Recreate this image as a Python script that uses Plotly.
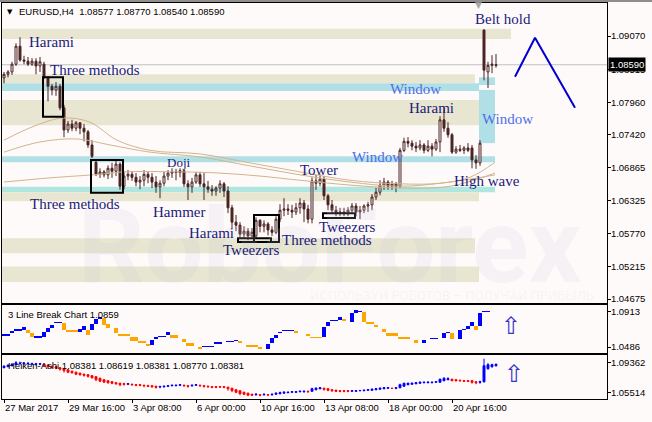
import plotly.graph_objects as go

# ---------------- data ----------------
bars = list(range(124))
o = [1.0837,1.0843,1.0847,1.0860,1.0890,1.0867,1.0865,1.0860,1.0865,1.0857,
     1.0860,1.0837,1.0823,1.0817,1.0823,1.0787,1.0750,1.0760,1.0753,1.0762,
     1.0753,1.0747,1.0725,1.0696,1.0676,1.0680,1.0675,1.0686,1.0681,1.0693,
     1.0656,1.0673,1.0676,1.0671,1.0663,1.0666,1.0676,1.0671,1.0663,1.0655,
     1.0661,1.0673,1.0678,1.0680,1.0679,1.0682,1.0660,1.0655,1.0663,1.0675,
     1.0660,1.0655,1.0651,1.0648,1.0653,1.0660,1.0648,1.0620,1.0596,1.0591,
     1.0576,1.0581,1.0573,1.0573,1.0599,1.0589,1.0593,1.0583,1.0579,1.0601,
     1.0616,1.0618,1.0616,1.0613,1.0620,1.0628,1.0618,1.0601,1.0665,1.0661,
     1.0668,1.0640,1.0625,1.0616,1.0611,1.0613,1.0610,1.0616,1.0623,1.0613,
     1.0616,1.0623,1.0625,1.0638,1.0646,1.0658,1.0663,1.0656,1.0660,1.0656,
     1.0716,1.0731,1.0728,1.0723,1.0720,1.0725,1.0716,1.0723,1.0718,1.0730,
     1.0767,1.0753,1.0742,1.0713,1.0718,1.0716,1.0720,1.0720,1.0700,1.0695,
     1.0917,1.0847,1.0858,1.08577]
h = [1.0847,1.0850,1.0864,1.0895,1.0905,1.0874,1.0872,1.0870,1.0870,1.0872,
     1.0864,1.0840,1.0827,1.0830,1.0827,1.0792,1.0765,1.0767,1.0765,1.0763,
     1.0760,1.0750,1.0733,1.0700,1.0686,1.0683,1.0691,1.0695,1.0700,1.0696,
     1.0680,1.0683,1.0681,1.0678,1.0673,1.0683,1.0680,1.0678,1.0673,1.0666,
     1.0680,1.0683,1.0686,1.0685,1.0686,1.0683,1.0666,1.0670,1.0680,1.0680,
     1.0678,1.0665,1.0658,1.0656,1.0666,1.0663,1.0656,1.0625,1.0608,1.0596,
     1.0589,1.0586,1.0586,1.0604,1.0601,1.0599,1.0596,1.0589,1.0606,1.0626,
     1.0636,1.0626,1.0625,1.0628,1.0636,1.0633,1.0625,1.0671,1.0675,1.0676,
     1.0673,1.0643,1.0633,1.0623,1.0620,1.0620,1.0621,1.0628,1.0628,1.0623,
     1.0626,1.0630,1.0643,1.0653,1.0666,1.0670,1.0666,1.0665,1.0663,1.0720,
     1.0737,1.0738,1.0733,1.0730,1.0733,1.0728,1.0733,1.0728,1.0735,1.0773,
     1.0787,1.0763,1.0745,1.0723,1.0725,1.0723,1.0728,1.0725,1.0708,1.0733,
     1.0918,1.0864,1.0875,1.08770]
l = [1.0828,1.0838,1.0842,1.0857,1.0864,1.0860,1.0857,1.0857,1.0843,1.0847,
     1.0835,1.0798,1.0808,1.0807,1.0783,1.0738,1.0745,1.0748,1.0748,1.0743,
     1.0731,1.0720,1.0703,1.0673,1.0670,1.0671,1.0668,1.0670,1.0673,1.0650,
     1.0651,1.0666,1.0665,1.0656,1.0651,1.0656,1.0661,1.0653,1.0645,1.0636,
     1.0656,1.0666,1.0670,1.0666,1.0671,1.0655,1.0633,1.0645,1.0660,1.0655,
     1.0633,1.0645,1.0640,1.0640,1.0645,1.0638,1.0611,1.0586,1.0581,1.0569,
     1.0569,1.0566,1.0569,1.0569,1.0579,1.0579,1.0574,1.0573,1.0576,1.0596,
     1.0606,1.0608,1.0603,1.0608,1.0610,1.0596,1.0594,1.0594,1.0650,1.0656,
     1.0633,1.0616,1.0611,1.0606,1.0606,1.0606,1.0606,1.0610,1.0606,1.0601,
     1.0611,1.0613,1.0616,1.0633,1.0641,1.0650,1.0650,1.0650,1.0646,1.0653,
     1.0713,1.0721,1.0716,1.0713,1.0716,1.0711,1.0713,1.0706,1.0715,1.0713,
     1.0747,1.0737,1.0710,1.0710,1.0713,1.0710,1.0713,1.0686,1.0685,1.0690,
     1.0833,1.0820,1.0845,1.08540]
c = [1.0843,1.0847,1.0860,1.0890,1.0867,1.0865,1.0860,1.0865,1.0857,1.0864,
     1.0838,1.0823,1.0817,1.0823,1.0787,1.0750,1.0760,1.0753,1.0762,1.0753,
     1.0747,1.0725,1.0706,1.0676,1.0680,1.0675,1.0686,1.0681,1.0693,1.0656,
     1.0673,1.0676,1.0671,1.0663,1.0666,1.0676,1.0671,1.0663,1.0655,1.0661,
     1.0673,1.0678,1.0680,1.0679,1.0682,1.0660,1.0655,1.0663,1.0675,1.0660,
     1.0655,1.0651,1.0648,1.0653,1.0660,1.0648,1.0620,1.0596,1.0591,1.0576,
     1.0581,1.0573,1.0579,1.0599,1.0589,1.0593,1.0583,1.0579,1.0601,1.0616,
     1.0618,1.0616,1.0613,1.0620,1.0628,1.0618,1.0601,1.0665,1.0661,1.0668,
     1.0640,1.0625,1.0616,1.0611,1.0613,1.0610,1.0616,1.0623,1.0613,1.0616,
     1.0623,1.0625,1.0638,1.0646,1.0658,1.0663,1.0656,1.0660,1.0656,1.0716,
     1.0731,1.0728,1.0723,1.0720,1.0725,1.0716,1.0723,1.0718,1.0730,1.0767,
     1.0753,1.0742,1.0713,1.0718,1.0716,1.0720,1.0716,1.0700,1.0695,1.0728,
     1.0850,1.0858,1.0860,1.08590]

# moving averages (sampled)
ma_a_x = [0, 7.75, 14.75, 21.5, 28.25, 36.5, 49, 61.5, 74, 86.5, 99, 109, 116.5, 122.75]
ma_a_y = [1.0733,1.0757,1.0770,1.0763,1.0733,1.0716,1.0710,1.0695,1.0680,1.0666,1.0660,1.0661,1.0671,1.0696]
ma_b_x = [0, 9, 18.25, 26.5, 36.5, 49, 61.5, 74, 86.5, 99, 111.5, 122.75]
ma_b_y = [1.0713,1.0730,1.0735,1.0725,1.0713,1.0705,1.0690,1.0675,1.0663,1.0656,1.0663,1.0675]
ma_c_x = [0, 11.5, 24, 29.75, 44, 54, 64, 74, 86.5, 99, 111.5, 122.75]
ma_c_y = [1.0663,1.0670,1.0676,1.0680,1.0680,1.0678,1.0673,1.0666,1.0658,1.0653,1.0656,1.0678]

# support / resistance bands
band_lo  = [1.0902,1.0828,1.0815,1.0758,1.0696,1.0646,1.0631,1.0544,1.0496,1.0825,1.0728]
band_hi  = [1.0919,1.0843,1.0828,1.0800,1.0706,1.0655,1.0646,1.0569,1.0522,1.0838,1.0817]
band_x0  = [-0.5,-0.5,-0.5,-0.5,-0.5,-0.5,-0.5,-0.5,-0.5,118.75,118.75]
band_x1  = [126.75,117.75,118.75,118.75,122.75,122.75,118.75,117.75,118.75,122.75,122.75]
band_kind = ["s","s","w","s","w","w2","s","s","s","w","w"]

# pattern boxes
box_x0 = [9.75, 21.75, 62.5, 58.5, 79.75]
box_x1 = [14.75, 29.75, 68.75, 66.75, 87.75]
box_lo = [1.0772, 1.0645, 1.0563, 1.0563, 1.0603]
box_hi = [1.0838, 1.0700, 1.0608, 1.0569, 1.0611]

# pattern labels
lab_text = ["Harami","Three methods","Three methods","Doji","Hammer","Harami","Tweezers",
            "Three methods","Tower","Tweezers","Window","Window","Harami","Belt hold","Window","High wave"]
lab_x = [11.75,22.75,17.75,43.75,43.75,51.75,61.75,80.75,78.75,85.75,93.25,102.75,106.75,124.75,125.75,120.75]
lab_y = [1.0897,1.0850,1.0626,1.0695,1.0613,1.0578,1.0549,1.0567,1.0683,1.0588,1.0705,1.0818,1.0787,1.0935,1.0768,1.0665]
lab_win = [False,False,False,False,False,False,False,False,False,False,True,True,False,False,True,False]

# forecast zigzag
fc_x = [127.75, 132.75, 142.75]
fc_y = [1.0839, 1.0904, 1.0787]

# 3 line break blocks: start bar, end bar, high, low, up
lb_s = [0,2,3,5,6,7,8,10,11,12,13,15,16,19,20,21,22,23,24,25,26,28,29,32,34,36,37,38,39,41,42,45,46,49,50,53,56,58,59,61,64,66,67,68,69,70,73,76,77,80,81,82,84,85,87,88,89,90,91,93,95,96,99,103,105,107,110,111,112,114,115,116,117,118,119,120]
lb_e = [1,2,4,5,6,7,9,10,11,12,14,15,18,19,20,21,22,23,24,25,26,28,31,33,35,36,37,38,40,41,43,45,47,49,52,54,57,58,59,63,64,66,67,68,69,72,73,76,79,80,81,83,84,85,87,88,89,90,92,93,95,98,101,103,105,108,110,111,112,114,115,116,117,118,119,121]
lb_hi = [1.0645,1.0681,1.0706,1.0730,1.0693,1.0657,1.0620,1.0669,1.0718,1.0754,1.0791,1.0779,1.0693,1.0706,1.0742,1.0693,1.0767,1.0828,1.0852,1.0840,1.0767,1.0718,1.0645,1.0608,1.0559,1.0523,1.0571,1.0608,1.0620,1.0669,1.0632,1.0584,1.0535,1.0486,1.0498,1.0547,1.0559,1.0571,1.0559,1.0510,1.0486,1.0523,1.0596,1.0632,1.0669,1.0693,1.0681,1.0645,1.0608,1.0730,1.0791,1.0815,1.0852,1.0828,1.0901,1.0937,1.0925,1.0913,1.0791,1.0754,1.0706,1.0657,1.0608,1.0571,1.0571,1.0596,1.0657,1.0669,1.0657,1.0693,1.0706,1.0742,1.0791,1.0742,1.0901,1.0925]
lb_lo = [1.0620,1.0657,1.0681,1.0693,1.0657,1.0608,1.0596,1.0608,1.0669,1.0718,1.0775,1.0693,1.0669,1.0669,1.0693,1.0632,1.0693,1.0767,1.0828,1.0754,1.0718,1.0657,1.0620,1.0559,1.0535,1.0498,1.0510,1.0584,1.0606,1.0632,1.0596,1.0547,1.0498,1.0462,1.0484,1.0523,1.0545,1.0559,1.0535,1.0486,1.0462,1.0462,1.0535,1.0596,1.0655,1.0679,1.0657,1.0620,1.0594,1.0608,1.0742,1.0801,1.0815,1.0803,1.0791,1.0901,1.0911,1.0791,1.0767,1.0730,1.0669,1.0620,1.0584,1.0535,1.0535,1.0582,1.0596,1.0655,1.0584,1.0584,1.0691,1.0706,1.0742,1.0693,1.0742,1.0911]
lb_up = [1,1,1,1,0,0,1,1,1,1,1,0,0,1,1,0,1,1,1,0,0,0,0,0,0,0,1,1,1,1,0,0,0,0,1,1,1,1,0,0,0,1,1,1,1,1,0,0,0,1,1,1,1,0,1,1,1,0,0,0,0,0,0,0,1,1,1,1,0,1,1,1,1,0,1,1]

# Heiken Ashi
ha_o = [1.0871,1.0884,1.0897,1.0910,1.0923,1.0923,1.0923,1.0917,1.0917,1.0917,
        1.0917,1.0904,1.0890,1.0884,1.0871,1.0858,1.0845,1.0826,1.0812,1.0800,
        1.0786,1.0780,1.0767,1.0754,1.0734,1.0715,1.0702,1.0689,1.0676,1.0669,
        1.0663,1.0656,1.0656,1.0650,1.0650,1.0643,1.0637,1.0637,1.0630,1.0620,
        1.0624,1.0630,1.0637,1.0637,1.0643,1.0643,1.0637,1.0637,1.0643,1.0643,
        1.0637,1.0630,1.0624,1.0624,1.0624,1.0624,1.0617,1.0604,1.0585,1.0572,
        1.0552,1.0540,1.0526,1.0520,1.0520,1.0520,1.0520,1.0520,1.0526,1.0533,
        1.0540,1.0546,1.0552,1.0552,1.0559,1.0559,1.0565,1.0565,1.0585,1.0598,
        1.0604,1.0598,1.0585,1.0578,1.0572,1.0572,1.0572,1.0565,1.0565,1.0572,
        1.0572,1.0578,1.0578,1.0585,1.0591,1.0598,1.0604,1.0604,1.0604,1.0611,
        1.0630,1.0650,1.0656,1.0663,1.0669,1.0676,1.0676,1.0676,1.0682,1.0682,
        1.0702,1.0715,1.0721,1.0715,1.0708,1.0702,1.0702,1.0702,1.0689,1.0682,
        1.0689,1.0858,1.0884,1.0897]
ha_c = [1.0890,1.0904,1.0916,1.0936,1.0930,1.0930,1.0930,1.0923,1.0923,1.0923,
        1.0897,1.0884,1.0878,1.0864,1.0852,1.0832,1.0812,1.0806,1.0786,1.0780,
        1.0774,1.0760,1.0741,1.0715,1.0696,1.0683,1.0676,1.0669,1.0663,1.0650,
        1.0656,1.0663,1.0650,1.0643,1.0643,1.0637,1.0630,1.0624,1.0617,1.0626,
        1.0630,1.0637,1.0643,1.0643,1.0650,1.0637,1.0630,1.0643,1.0650,1.0637,
        1.0630,1.0624,1.0617,1.0617,1.0620,1.0617,1.0598,1.0572,1.0552,1.0533,
        1.0526,1.0514,1.0514,1.0526,1.0514,1.0526,1.0517,1.0526,1.0540,1.0546,
        1.0552,1.0552,1.0559,1.0559,1.0565,1.0565,1.0559,1.0598,1.0604,1.0611,
        1.0591,1.0578,1.0572,1.0565,1.0565,1.0565,1.0565,1.0572,1.0572,1.0575,
        1.0578,1.0585,1.0591,1.0598,1.0604,1.0611,1.0611,1.0601,1.0611,1.0650,
        1.0669,1.0669,1.0669,1.0676,1.0682,1.0682,1.0682,1.0682,1.0689,1.0721,
        1.0734,1.0728,1.0702,1.0702,1.0702,1.0695,1.0695,1.0682,1.0676,1.0689,
        1.0897,1.0910,1.0910,1.0916]
ha_h = [1.0904,1.0910,1.0930,1.0956,1.0949,1.0943,1.0936,1.0936,1.0930,1.0930,
        1.0923,1.0910,1.0897,1.0890,1.0878,1.0864,1.0852,1.0832,1.0819,1.0806,
        1.0793,1.0786,1.0774,1.0760,1.0741,1.0721,1.0708,1.0695,1.0682,1.0676,
        1.0676,1.0669,1.0663,1.0656,1.0656,1.0650,1.0650,1.0643,1.0637,1.0637,
        1.0637,1.0643,1.0650,1.0650,1.0656,1.0650,1.0643,1.0650,1.0656,1.0650,
        1.0643,1.0637,1.0630,1.0630,1.0630,1.0630,1.0624,1.0611,1.0591,1.0578,
        1.0559,1.0546,1.0533,1.0540,1.0526,1.0533,1.0526,1.0533,1.0546,1.0559,
        1.0565,1.0559,1.0565,1.0565,1.0572,1.0572,1.0572,1.0611,1.0617,1.0617,
        1.0611,1.0604,1.0591,1.0585,1.0578,1.0578,1.0578,1.0578,1.0578,1.0578,
        1.0585,1.0591,1.0598,1.0604,1.0611,1.0617,1.0617,1.0611,1.0617,1.0663,
        1.0676,1.0676,1.0676,1.0682,1.0689,1.0689,1.0695,1.0689,1.0695,1.0728,
        1.0747,1.0747,1.0728,1.0721,1.0715,1.0708,1.0708,1.0708,1.0695,1.0702,
        1.0988,1.0930,1.0923,1.0923]
ha_l = [1.0864,1.0878,1.0890,1.0904,1.0910,1.0904,1.0910,1.0910,1.0897,1.0904,
        1.0884,1.0864,1.0858,1.0852,1.0832,1.0806,1.0800,1.0793,1.0774,1.0767,
        1.0754,1.0741,1.0728,1.0696,1.0683,1.0676,1.0663,1.0656,1.0650,1.0630,
        1.0637,1.0650,1.0637,1.0630,1.0630,1.0617,1.0624,1.0611,1.0598,1.0604,
        1.0611,1.0624,1.0630,1.0630,1.0637,1.0624,1.0611,1.0624,1.0637,1.0624,
        1.0611,1.0611,1.0604,1.0604,1.0611,1.0604,1.0572,1.0552,1.0540,1.0514,
        1.0514,1.0501,1.0501,1.0507,1.0501,1.0507,1.0507,1.0507,1.0520,1.0526,
        1.0533,1.0540,1.0546,1.0546,1.0552,1.0546,1.0546,1.0559,1.0578,1.0591,
        1.0572,1.0565,1.0559,1.0559,1.0552,1.0552,1.0552,1.0559,1.0559,1.0565,
        1.0565,1.0572,1.0572,1.0578,1.0585,1.0591,1.0598,1.0598,1.0591,1.0604,
        1.0624,1.0643,1.0650,1.0656,1.0663,1.0669,1.0669,1.0669,1.0676,1.0676,
        1.0695,1.0708,1.0695,1.0695,1.0689,1.0689,1.0689,1.0663,1.0656,1.0663,
        1.0676,1.0845,1.0871,1.0884]

main_ticks = [1.09070,1.08515,1.07960,1.07420,1.06865,1.06325,1.05770,1.05215,1.04675]
lb_ticks = [1.0913, 1.0486]
ha_ticks = [1.09362, 1.05514]
time_ticks = [0,16,32,48,64,80,96,112]
time_labels = ["27 Mar 2017","29 Mar 16:00","3 Apr 08:00","6 Apr 00:00",
               "10 Apr 16:00","13 Apr 08:00","18 Apr 00:00","20 Apr 16:00"]
last_price = 1.08590

# ---------------- styling ----------------
W, H = 652, 422
BG = "#FFFAFA"
CANDLE = "#4A2323"
BEIGE = "#E8E6D1"
WIN = "#B0E0E6"
WIN2 = "#B0E6E0"
LABEL = "#1A1A78"
WINLABEL = "#4F6FE6"
TAN = "#D2B48C"
AXFONT = dict(family="Liberation Sans", size=9.5, color="black")

def px_x(p):
    return p / W

def px_y(p):
    return 1 - p / H

xdom = [px_x(2), px_x(607)]
xr = [-0.5, 150.75]

fig = go.Figure()

fig.add_trace(go.Candlestick(
    x=bars, open=o, high=h, low=l, close=c, xaxis="x", yaxis="y",
    increasing=dict(line=dict(color=CANDLE, width=1), fillcolor="#FFFFFF"),
    decreasing=dict(line=dict(color=CANDLE, width=1), fillcolor=CANDLE),
    whiskerwidth=0, showlegend=False, hoverinfo="skip"))

for mx, my in [(ma_a_x, ma_a_y), (ma_b_x, ma_b_y), (ma_c_x, ma_c_y)]:
    fig.add_trace(go.Scatter(x=mx, y=my, mode="lines", xaxis="x", yaxis="y",
                             line=dict(color=TAN, width=1, shape="spline", smoothing=1.0),
                             showlegend=False, hoverinfo="skip"))

fig.add_trace(go.Scatter(x=fc_x, y=fc_y, mode="lines", xaxis="x", yaxis="y",
                         line=dict(color="#0000D0", width=2), showlegend=False, hoverinfo="skip"))

lb_x = [(s + e) / 2 for s, e in zip(lb_s, lb_e)]
lb_w = [e - s + 1 for s, e in zip(lb_s, lb_e)]
lb_h = [max(hi - lo, 0.0014) for hi, lo in zip(lb_hi, lb_lo)]
lb_col = ["#0000FF" if u else "#FFA500" for u in lb_up]
fig.add_trace(go.Bar(x=lb_x, y=lb_h, base=lb_lo, width=lb_w, xaxis="x2", yaxis="y2",
                     marker=dict(color=lb_col, line=dict(width=0)), showlegend=False, hoverinfo="skip"))

fig.add_trace(go.Candlestick(
    x=bars, open=ha_o, high=ha_h, low=ha_l, close=ha_c, xaxis="x3", yaxis="y3",
    increasing=dict(line=dict(color="#0000FF", width=1), fillcolor="#0000FF"),
    decreasing=dict(line=dict(color="#FF0000", width=1), fillcolor="#FF0000"),
    whiskerwidth=0, showlegend=False, hoverinfo="skip"))

shapes = []
for lo_, hi_, x0, x1, k in zip(band_lo, band_hi, band_x0, band_x1, band_kind):
    col = BEIGE if k == "s" else (WIN if k == "w" else WIN2)
    shapes.append(dict(type="rect", xref="x", yref="y", x0=x0, x1=x1, y0=lo_, y1=hi_,
                       fillcolor=col, line=dict(width=0), layer="below"))
shapes.append(dict(type="line", xref="x", yref="y", x0=xr[0], x1=xr[1], y0=last_price, y1=last_price,
                   line=dict(color="#C0C0C0", width=1), layer="below"))
for x0, x1, lo_, hi_ in zip(box_x0, box_x1, box_lo, box_hi):
    shapes.append(dict(type="rect", xref="x", yref="y", x0=x0, x1=x1, y0=lo_, y1=hi_,
                       line=dict(color="black", width=2), fillcolor="rgba(0,0,0,0)", layer="above"))
shapes.append(dict(type="line", xref="paper", yref="paper", x0=0, x1=1, y0=px_y(1), y1=px_y(1),
                   line=dict(color="#202020", width=1)))

ann = []
ann.append(dict(text="RoboForex", xref="paper", yref="paper", x=px_x(330), y=px_y(246),
                xanchor="center", yanchor="middle", showarrow=False,
                font=dict(family="Roboto", size=104, weight="bold", color="rgba(195,195,212,0.17)")))
ann.append(dict(text="ИСПОЛЬЗУЙ РОБОТОВ – ПОЛУЧАЙ ПРИБЫЛЬ", xref="paper", yref="paper",
                x=px_x(452), y=px_y(295), xanchor="center", yanchor="middle", showarrow=False,
                font=dict(family="Roboto", size=13, color="rgba(195,195,212,0.14)")))
for t, x, y, w in zip(lab_text, lab_x, lab_y, lab_win):
    ann.append(dict(text=t, x=x, y=y, xref="x", yref="y", showarrow=False,
                    xanchor="center", yanchor="middle",
                    font=dict(family="Liberation Serif", size=13 if t == "Doji" else 15,
                              color=WINLABEL if w else LABEL)))
ann.append(dict(text="▼", xref="paper", yref="paper", x=px_x(5), y=px_y(12), xanchor="left",
                yanchor="middle", showarrow=False, font=dict(family="DejaVu Sans", size=7, color="black")))
ann.append(dict(text="EURUSD,H4  1.08577 1.08770 1.08540 1.08590", xref="paper", yref="paper",
                x=px_x(17), y=px_y(12), xanchor="left", yanchor="middle", showarrow=False, font=AXFONT))
ann.append(dict(text="3 Line Break Chart 1.0859", xref="paper", yref="paper",
                x=px_x(6), y=px_y(314), xanchor="left", yanchor="middle", showarrow=False, font=AXFONT))
ann.append(dict(text="Heiken-Ashi 1.08381 1.08619 1.08381 1.08770 1.08381", xref="paper", yref="paper",
                x=px_x(6), y=px_y(365), xanchor="left", yanchor="middle", showarrow=False, font=AXFONT))
ann.append(dict(text="1.08590", xref="paper", yref="y", x=px_x(608), y=last_price, xanchor="left",
                yanchor="middle", showarrow=False, bgcolor="black", borderpad=1,
                font=dict(family="Liberation Sans", size=9.5, color="white")))
ann.append(dict(text="▼", xref="x", yref="paper", x=118.5, y=px_y(5), xanchor="center", yanchor="middle",
                showarrow=False, font=dict(family="DejaVu Sans", size=9, color="#A8A8A8")))
ann.append(dict(text="⇧", xref="x2", yref="y2", x=126.75, y=1.0742, showarrow=False,
                xanchor="center", yanchor="middle",
                font=dict(family="DejaVu Sans", size=24, color="#3434C8")))
ann.append(dict(text="⇧", xref="x3", yref="y3", x=127.5, y=1.0793, showarrow=False,
                xanchor="center", yanchor="middle",
                font=dict(family="DejaVu Sans", size=24, color="#3434C8")))

common_x = dict(range=xr, domain=xdom, showgrid=False, zeroline=False, showline=True, mirror=True,
                linecolor="black", linewidth=1, rangeslider=dict(visible=False), fixedrange=True)
common_y = dict(side="right", showgrid=False, zeroline=False, showline=True, mirror=True,
                linecolor="black", linewidth=1, ticks="outside", ticklen=3, tickcolor="black",
                tickfont=AXFONT, fixedrange=True, ticklabelstandoff=-2)

fig.update_layout(
    width=W, height=H, margin=dict(l=0, r=0, t=0, b=0),
    paper_bgcolor=BG, plot_bgcolor=BG, showlegend=False, bargap=0,
    xaxis=dict(**common_x, anchor="y", showticklabels=False, ticks=""),
    yaxis=dict(**common_y, anchor="x", domain=[px_y(303), px_y(3)], range=[1.04609, 1.09622],
               tickvals=main_ticks, ticktext=["%.5f" % v for v in main_ticks]),
    xaxis2=dict(**common_x, anchor="y2", showticklabels=False, ticks=""),
    yaxis2=dict(**common_y, anchor="x2", domain=[px_y(353), px_y(305)], range=[1.0413, 1.0998],
                tickvals=lb_ticks, ticktext=["%.4f" % v for v in lb_ticks]),
    xaxis3=dict(**common_x, anchor="y3", tickvals=time_ticks, ticktext=time_labels,
                ticks="outside", ticklen=3, tickcolor="black", tickfont=AXFONT,
                ticklabelposition="outside right"),
    yaxis3=dict(**common_y, anchor="x3", domain=[px_y(399), px_y(355)], range=[1.04643, 1.1036],
                tickvals=ha_ticks, ticktext=["%.5f" % v for v in ha_ticks]),
    shapes=shapes, annotations=ann,
)

fig.write_html("out.html", config={"displayModeBar": False, "staticPlot": True},
               post_script="document.body.style.margin='0';document.body.style.overflow='hidden';")
